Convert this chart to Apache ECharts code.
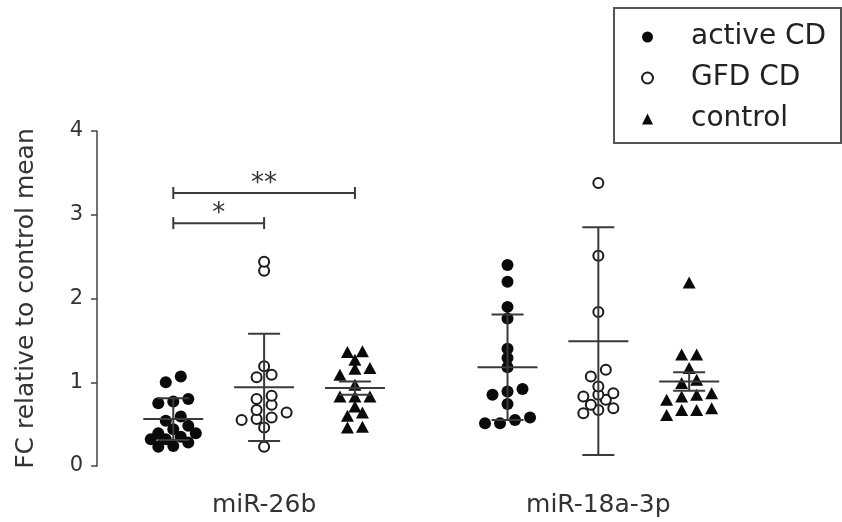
<!DOCTYPE html>
<html><head><meta charset="utf-8">
<script src="https://cdn.jsdelivr.net/npm/echarts@6/dist/echarts.min.js"></script>
<style>html,body{margin:0;padding:0;background:#fff}#c{width:842px;height:522px}</style>
</head><body><div id="c"></div>
<script>
// ---------- data ----------
const categories = ['miR-26b', 'miR-18a-3p'];
const groups = ['active CD', 'GFD CD', 'control'];
const yTicks = [0, 1, 2, 3, 4];

const activeCD_miR26b = [1.07, 1.00, 0.80, 0.75, 0.77, 0.59, 0.54, 0.48, 0.44, 0.39, 0.39, 0.35, 0.28, 0.32, 0.32, 0.23, 0.24];
const gfdCD_miR26b    = [2.33, 2.44, 1.19, 1.09, 1.06, 0.80, 0.84, 0.67, 0.73, 0.64, 0.55, 0.58, 0.56, 0.46, 0.23];
const control_miR26b  = [1.27, 1.36, 1.37, 1.16, 1.09, 1.17, 0.97, 0.83, 0.83, 0.83, 0.71, 0.60, 0.64, 0.46, 0.47];
const activeCD_miR18a = [2.40, 2.20, 1.90, 1.76, 1.40, 1.29, 1.18, 0.92, 0.85, 0.89, 0.74, 0.55, 0.51, 0.51, 0.58];
const gfdCD_miR18a    = [3.38, 2.51, 1.84, 1.15, 1.07, 0.95, 0.85, 0.83, 0.87, 0.79, 0.73, 0.69, 0.63, 0.67];
const control_miR18a  = [2.19, 1.33, 1.33, 1.17, 1.03, 0.99, 0.87, 0.83, 0.79, 0.85, 0.67, 0.61, 0.67, 0.69];

// mean and error bar half-length as drawn, per group (active CD, GFD CD, control)
const mean_miR26b = [0.56, 0.94, 0.93];
const err_miR26b  = [0.25, 0.64, 0.08];
const mean_miR18a = [1.18, 1.49, 1.01];
const err_miR18a  = [0.63, 1.36, 0.11];

// significance annotations (category index, group indices, level, label)
const sigCategory = [0, 0];
const sigFrom  = [0, 0];
const sigTo    = [1, 2];
const sigLevel = [2.90, 3.26];
const sigLabel = ['*', '**'];

// ---------- layout helpers ----------
const FONT = 'DejaVu Sans';
const catStep = 3.68;          // distance between category blocks (in group widths)
const slot = 0.0826;           // horizontal swarm step in axis units
const pos = (ci, gi) => ci * catStep + gi;

const valuesByGroup = [
  [activeCD_miR26b, activeCD_miR18a],
  [gfdCD_miR26b, gfdCD_miR18a],
  [control_miR26b, control_miR18a]
];
const means = [mean_miR26b, mean_miR18a];
const errs = [err_miR26b, err_miR18a];

// simple row-based dot-plot arrangement
function swarm(vals, rowSpan, maxPerRow) {
  const s = vals.slice().sort((a, b) => a - b);
  const out = [];
  let i = 0;
  while (i < s.length) {
    const row = [s[i]];
    let j = i + 1;
    while (j < s.length && s[j] - s[i] < rowSpan && row.length < maxPerRow) { row.push(s[j]); j++; }
    const n = row.length;
    row.forEach((v, k) => out.push([2 * k - (n - 1), v]));
    i = j;
  }
  return out;
}

const symbols = ['circle', 'circle', 'triangle'];
const sizes = [12, 10, [13, 12]];
const styles = [
  { color: '#0a0a0a', opacity: 1 },
  { color: '#fff', borderColor: '#1a1a1a', borderWidth: 2, opacity: 1 },
  { color: '#0a0a0a', opacity: 1 }
];

const scatterSeries = groups.map((g, gi) => {
  const data = [];
  categories.forEach((c, ci) => {
    swarm(valuesByGroup[gi][ci], 0.09, 4).forEach(([o, v]) => {
      data.push([pos(ci, gi) + o * slot, v]);
    });
  });
  return {
    name: g, type: 'scatter', symbol: symbols[gi], symbolSize: sizes[gi],
    symbolKeepAspect: true,
    itemStyle: styles[gi], data: data, z: 2, silent: true
  };
});

const errData = [];
categories.forEach((c, ci) => groups.forEach((g, gi) => {
  errData.push([pos(ci, gi), means[ci][gi], errs[ci][gi]]);
}));

const errSeries = {
  type: 'custom', z: 5, silent: true,
  encode: { x: 0, y: 1 },
  data: errData,
  renderItem: function (params, api) {
    const u = api.value(0), m = api.value(1), e = api.value(2);
    const c = api.coord([u, m]), t = api.coord([u, m + e]), b = api.coord([u, m - e]);
    const st = { stroke: '#3a3a3a', lineWidth: 2 };
    return {
      type: 'group', children: [
        { type: 'line', shape: { x1: c[0] - 30, y1: c[1], x2: c[0] + 30, y2: c[1] }, style: st },
        { type: 'line', shape: { x1: c[0], y1: t[1], x2: c[0], y2: b[1] }, style: st },
        { type: 'line', shape: { x1: c[0] - 16, y1: t[1], x2: c[0] + 16, y2: t[1] }, style: st },
        { type: 'line', shape: { x1: c[0] - 16, y1: b[1], x2: c[0] + 16, y2: b[1] }, style: st }
      ]
    };
  }
};

const sigData = sigLevel.map((y, i) => [pos(sigCategory[i], sigFrom[i]), pos(sigCategory[i], sigTo[i]), y]);
const sigSeries = {
  type: 'custom', z: 5, silent: true,
  encode: { x: [0, 1], y: 2 },
  data: sigData,
  renderItem: function (params, api) {
    const a = api.coord([api.value(0), api.value(2)]);
    const b = api.coord([api.value(1), api.value(2)]);
    const st = { stroke: '#3a3a3a', lineWidth: 2 };
    return {
      type: 'group', children: [
        { type: 'line', shape: { x1: a[0], y1: a[1], x2: b[0], y2: b[1] }, style: st },
        { type: 'line', shape: { x1: a[0], y1: a[1] - 6, x2: a[0], y2: a[1] + 6 }, style: st },
        { type: 'line', shape: { x1: b[0], y1: b[1] - 6, x2: b[0], y2: b[1] + 6 }, style: st },
        { type: 'text', style: { text: sigLabel[params.dataIndex], x: (a[0] + b[0]) / 2, y: a[1] - 9,
          align: 'center', verticalAlign: 'middle', fontSize: 26, fontFamily: FONT, fill: '#333' } }
      ]
    };
  }
};

const chart = echarts.init(document.getElementById('c'), null, { renderer: 'canvas' });
chart.setOption({
  animation: false,
  backgroundColor: '#fff',
  grid: { left: 97, right: 82, top: 131, bottom: 56 },
  xAxis: {
    type: 'value', min: -0.84, max: 6.46,
    axisLine: { show: false }, axisTick: { show: false }, splitLine: { show: false },
    axisLabel: {
      customValues: categories.map((c, ci) => pos(ci, 1)),
      formatter: v => categories[Math.round((v - 1) / catStep)],
      fontSize: 25, fontFamily: FONT, color: '#333', margin: 27
    }
  },
  yAxis: {
    type: 'value', min: yTicks[0], max: yTicks[yTicks.length - 1], interval: 1,
    name: 'FC relative to control mean', nameLocation: 'middle', nameGap: 58,
    nameTextStyle: { fontSize: 25, fontFamily: FONT, color: '#333' },
    axisLine: { show: true, onZero: false, lineStyle: { color: '#444', width: 1.5 } },
    axisTick: { show: true, length: 6, customValues: yTicks, lineStyle: { color: '#444', width: 1.5 } },
    axisLabel: { customValues: yTicks, fontSize: 21, fontFamily: FONT, color: '#333', margin: 14 },
    splitLine: { show: false }
  },
  legend: {
    data: groups, orient: 'vertical', left: 641, top: 22, padding: 0,
    itemWidth: 11, itemHeight: 11, itemGap: 11, symbolKeepAspect: true,
    textStyle: { fontSize: 28, fontFamily: FONT, color: '#222', lineHeight: 30, padding: [0, 0, 0, 33] },
    selectedMode: false
  },
  graphic: [{ type: 'rect', shape: { x: 614, y: 8, width: 227, height: 135 },
    style: { fill: 'none', stroke: '#555', lineWidth: 2 }, silent: true }],
  series: scatterSeries.concat([errSeries, sigSeries])
});
</script></body></html>
